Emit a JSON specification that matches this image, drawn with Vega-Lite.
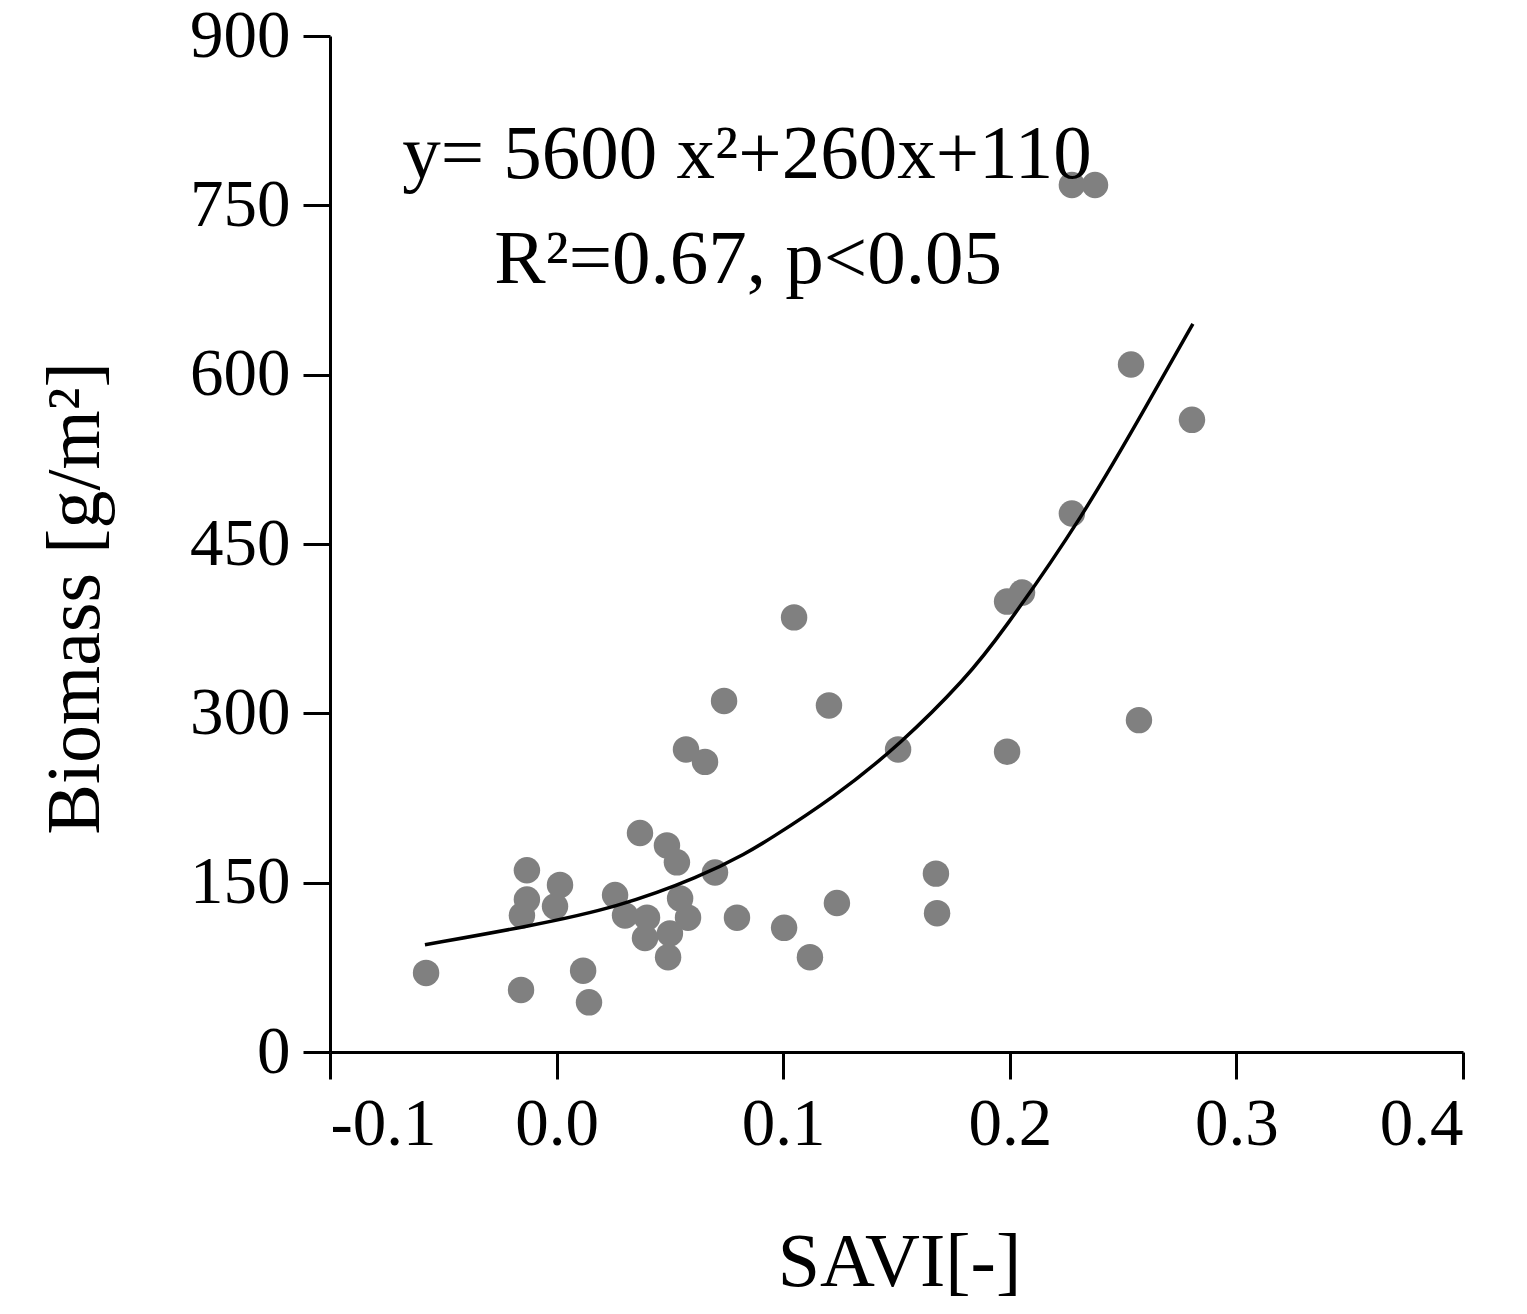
{
  "$schema": "https://vega.github.io/schema/vega-lite/v6.json",
  "width": 1133,
  "height": 1016,
  "autosize": {"type": "none"},
  "padding": {"left": 330, "top": 36, "right": 64, "bottom": 262},
  "background": "white",
  "config": {
    "view": {"stroke": null},
    "font": "Liberation Serif",
    "axis": {
      "grid": false,
      "domainColor": "black",
      "domainWidth": 3,
      "tickColor": "black",
      "tickWidth": 3,
      "tickSize": 27,
      "labelFont": "Liberation Serif",
      "labelFontSize": 67,
      "labelColor": "black",
      "titleFont": "Liberation Serif",
      "titleFontSize": 76,
      "titleFontWeight": "normal",
      "titleColor": "black"
    }
  },
  "datasets": {
    "points": [
      {"savi": -0.0576, "biomass": 70},
      {"savi": -0.0157, "biomass": 55},
      {"savi": -0.0131, "biomass": 161},
      {"savi": -0.0131, "biomass": 135},
      {"savi": -0.0153, "biomass": 121},
      {"savi": -0.0007, "biomass": 129},
      {"savi": 0.0015, "biomass": 148},
      {"savi": 0.0117, "biomass": 72},
      {"savi": 0.0143, "biomass": 44},
      {"savi": 0.0258, "biomass": 139},
      {"savi": 0.0302, "biomass": 121},
      {"savi": 0.0368, "biomass": 194},
      {"savi": 0.0399, "biomass": 119},
      {"savi": 0.039, "biomass": 101},
      {"savi": 0.0487, "biomass": 183},
      {"savi": 0.0531, "biomass": 168},
      {"savi": 0.0492, "biomass": 84},
      {"savi": 0.05, "biomass": 105},
      {"savi": 0.0545, "biomass": 136},
      {"savi": 0.058, "biomass": 119},
      {"savi": 0.0571, "biomass": 268},
      {"savi": 0.0655, "biomass": 257},
      {"savi": 0.0699, "biomass": 159},
      {"savi": 0.0739, "biomass": 311},
      {"savi": 0.0796, "biomass": 119},
      {"savi": 0.1004, "biomass": 110},
      {"savi": 0.1048, "biomass": 385},
      {"savi": 0.1118, "biomass": 84},
      {"savi": 0.1202, "biomass": 307},
      {"savi": 0.1237, "biomass": 132},
      {"savi": 0.1507, "biomass": 268},
      {"savi": 0.1674, "biomass": 158},
      {"savi": 0.1679, "biomass": 123},
      {"savi": 0.1988, "biomass": 266},
      {"savi": 0.1988, "biomass": 399},
      {"savi": 0.2054, "biomass": 407},
      {"savi": 0.2274, "biomass": 477},
      {"savi": 0.2274, "biomass": 768},
      {"savi": 0.2376, "biomass": 768},
      {"savi": 0.2535, "biomass": 609},
      {"savi": 0.257, "biomass": 294},
      {"savi": 0.2804, "biomass": 560}
    ],
    "curve": [
      {"savi": -0.0581, "biomass": 95},
      {"savi": -0.0104, "biomass": 112},
      {"savi": 0.0267, "biomass": 128},
      {"savi": 0.0633, "biomass": 155},
      {"savi": 0.0845, "biomass": 177},
      {"savi": 0.0928, "biomass": 187},
      {"savi": 0.122, "biomass": 225},
      {"savi": 0.1515, "biomass": 272},
      {"savi": 0.1811, "biomass": 332},
      {"savi": 0.1957, "biomass": 369},
      {"savi": 0.2323, "biomass": 474},
      {"savi": 0.2619, "biomass": 578},
      {"savi": 0.2808, "biomass": 645}
    ],
    "notes": [
      {"savi": 0.084, "biomass": 774, "label": "y= 5600 x²+260x+110", "size": 77},
      {"savi": 0.0845, "biomass": 681, "label": "R²=0.67, p<0.05", "size": 76}
    ]
  },
  "layer": [
    {
      "data": {"name": "points"},
      "mark": {"type": "circle", "size": 700, "color": "#808080", "opacity": 1},
      "encoding": {
        "x": {
          "field": "savi", "type": "quantitative",
          "scale": {"domain": [-0.1, 0.4], "nice": false, "zero": false},
          "axis": {
            "values": [-0.1, 0, 0.1, 0.2, 0.3, 0.4],
            "labelExpr": "datum.value < 0 ? '-' + format(-datum.value, '.1f') : format(datum.value, '.1f')",
            "labelPadding": 12,
            "title": "SAVI[-]",
            "titleX": 569,
            "titleY": 233,
            "titleBaseline": "alphabetic",
            "titleAlign": "center"
          }
        },
        "y": {
          "field": "biomass", "type": "quantitative",
          "scale": {"domain": [0, 900], "nice": false},
          "axis": {
            "values": [0, 150, 300, 450, 600, 750, 900],
            "labelPadding": 13,
            "title": "Biomass [g/m²]",
            "titleAngle": 270,
            "titleX": -232,
            "titleY": 562,
            "titleBaseline": "alphabetic",
            "titleAlign": "center"
          }
        }
      }
    },
    {
      "data": {"name": "curve"},
      "mark": {"type": "line", "color": "black", "strokeWidth": 3.5, "interpolate": "basis"},
      "encoding": {
        "x": {"field": "savi", "type": "quantitative"},
        "y": {"field": "biomass", "type": "quantitative"}
      }
    },
    {
      "data": {"name": "notes"},
      "mark": {"type": "text", "fontSize": 77, "color": "black", "align": "center", "baseline": "alphabetic", "font": "Liberation Serif"},
      "encoding": {
        "x": {"field": "savi", "type": "quantitative"},
        "y": {"field": "biomass", "type": "quantitative"},
        "text": {"field": "label"}
      }
    }
  ]
}
